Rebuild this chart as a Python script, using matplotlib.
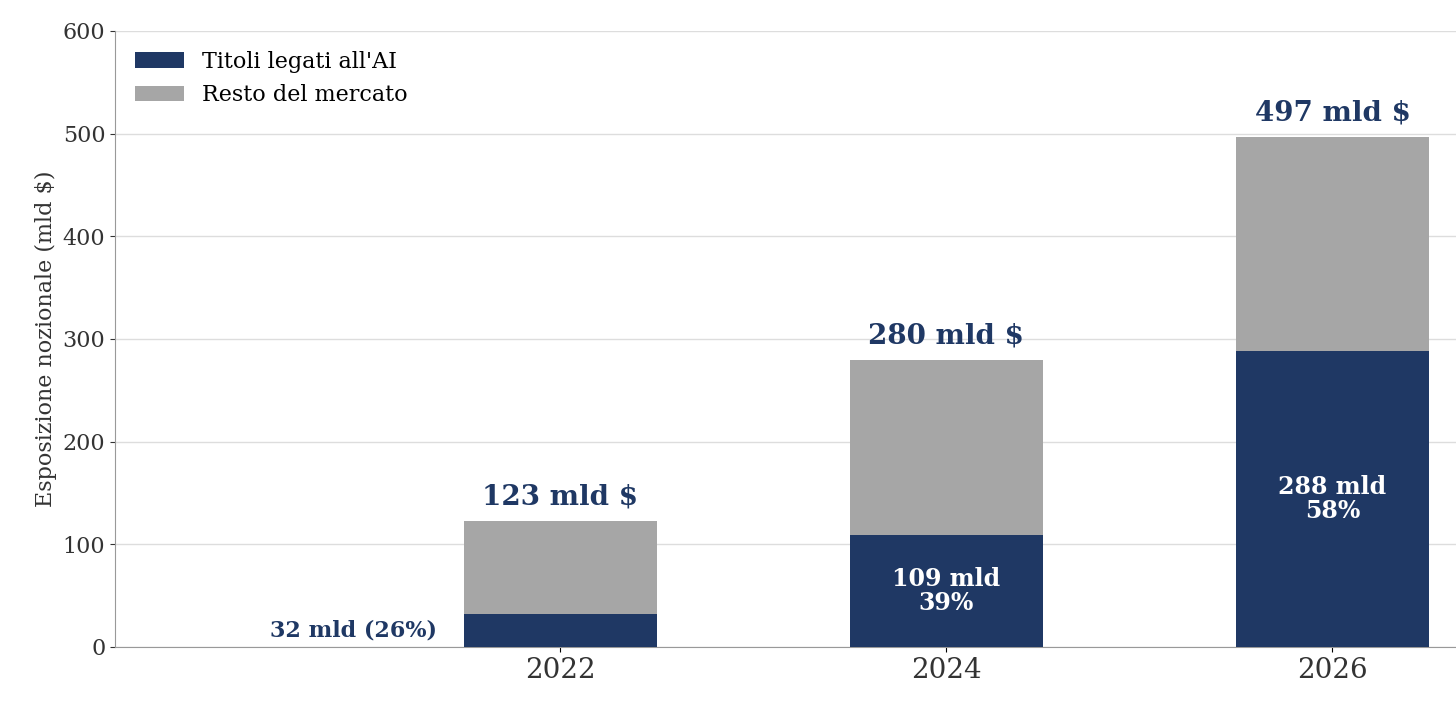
import numpy as np
import matplotlib.pyplot as plt

years = ["2022", "2024", "2026"]
ai = [32, 109, 288]
total = [123, 280, 497]
rest = [t - a for t, a in zip(total, ai)]
ai_labels = ["32 mld (26%)", "109 mld\n39%", "288 mld\n58%"]
total_labels = ["123 mld $", "280 mld $", "497 mld $"]

navy = "#1f3864"
grey = "#a6a6a6"

plt.rcParams['font.family'] = ['DejaVu Serif']
fig = plt.figure(figsize=(14.56, 7.12), dpi=100)
ax = fig.add_axes([0.079, 0.0913, 0.921, 0.8652])

x = np.arange(len(years))
ax.bar(x, ai, width=0.5, color=navy, label="Titoli legati all'AI", zorder=3)
ax.bar(x, rest, width=0.5, bottom=ai, color=grey, label="Resto del mercato", zorder=3)

for i in range(len(x)):
    ax.text(x[i], total[i] + 10, total_labels[i], ha="center", va="bottom",
            fontsize=20, fontweight="bold", color=navy)
    if i == 0:
        ax.text(x[i] - 0.32, ai[i] / 2, ai_labels[i], ha="right", va="center",
                fontsize=16, fontweight="bold", color=navy)
    else:
        ax.text(x[i], ai[i] / 2, ai_labels[i], ha="center", va="center",
                fontsize=17, fontweight="bold", color="white", linespacing=1.0)

ax.set_xlim(-1.153, 2.32)
ax.set_ylim(0, 600)
ax.set_xticks(x)
ax.set_xticklabels(years, fontsize=20, color="#333333")
ax.set_yticks(np.arange(0, 601, 100))
ax.tick_params(axis="y", labelsize=16, colors="#333333")
ax.tick_params(axis="y", colors="#333333")
ax.set_ylabel("Esposizione nozionale (mld $)", fontsize=16, color="#333333")
ax.grid(axis="y", color="#dddddd", linewidth=1, zorder=0)
for s in ["top", "right"]:
    ax.spines[s].set_visible(False)
for s in ["left", "bottom"]:
    ax.spines[s].set_color("#999999")
ax.legend(loc="upper left", frameon=False, fontsize=16, handlelength=2.2)

fig.savefig("out.png")
